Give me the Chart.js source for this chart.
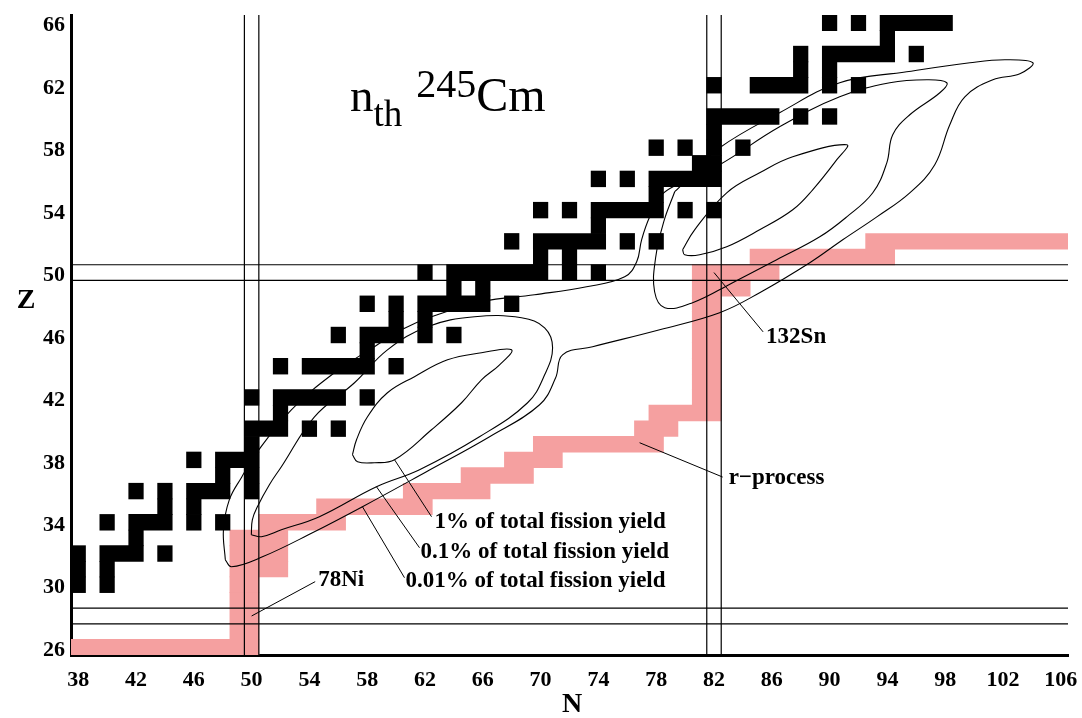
<!DOCTYPE html>
<html lang="en">
<head>
    <meta charset="UTF-8">
    <title>n_th 245Cm fission yield on the chart of nuclides</title>
    <style>
        html, body { margin: 0; padding: 0; background: #fff; overflow: hidden; }
        canvas { display: block; }
    </style>
    <script src="https://cdn.jsdelivr.net/npm/chart.js"></script>
</head>
<body>
    <canvas id="chart" width="1082" height="718"></canvas>

    <script>
        // Axis ticks
        const nTicks = [38, 42, 46, 50, 54, 58, 62, 66, 70, 74, 78, 82, 86, 90, 94, 98, 102, 106];
        const zTicks = [26, 30, 34, 38, 42, 46, 50, 54, 58, 62, 66];

        // Stable (and long-lived) nuclei: one list of neutron numbers per Z
        const stableZ = [30, 31, 32, 33, 34, 35, 36, 37, 38, 39, 40, 41, 42, 44, 45, 46, 47, 48, 49, 50,
                         51, 52, 53, 54, 55, 56, 57, 58, 59, 60, 62, 63, 64, 65, 66];
        const stableN = [
            [38, 40], [38, 40], [38, 40, 41, 42, 44], [42], [40, 42, 43, 44, 46, 48], [44, 46],
            [42, 44, 46, 47, 48, 50], [48, 50], [46, 48, 49, 50], [50], [50, 51, 52, 54, 56], [52],
            [50, 52, 53, 54, 55, 56, 58], [52, 54, 55, 56, 57, 58, 60], [58], [56, 58, 59, 60, 62, 64],
            [60, 62], [58, 60, 62, 63, 64, 65, 66, 68], [64, 66], [62, 64, 65, 66, 67, 68, 69, 70, 72, 74],
            [70, 72], [68, 70, 71, 72, 73, 74, 76, 78], [74], [70, 72, 74, 75, 76, 77, 78, 80, 82], [78],
            [74, 76, 78, 79, 80, 81, 82], [81, 82], [78, 80, 82, 84], [82], [82, 83, 84, 85, 86, 88, 90],
            [82, 85, 86, 87, 88, 90, 92], [88, 90], [88, 90, 91, 92, 93, 94, 96], [94], [90, 92, 94, 95, 96, 97, 98]
        ];

        // r-process path: first and last N for each Z
        const rZ    = [26, 27, 28, 29, 30, 31, 32, 33, 34, 35, 36, 37, 38, 39, 40, 41, 42, 43, 44, 45, 46, 47, 48, 49, 50, 51, 52];
        const rNmin = [38, 49, 49, 49, 49, 49, 49, 49, 51, 55, 61, 65, 68, 70, 77, 78, 81, 81, 81, 81, 81, 81, 81, 81, 81, 85, 93];
        const rNmax = [50, 50, 50, 50, 50, 52, 52, 52, 56, 62, 66, 69, 71, 78, 79, 82, 82, 82, 82, 82, 82, 82, 82, 84, 86, 94, 106];

        // Magic numbers (drawn as a pair of lines around the cell row/column)
        const magicN = [50, 82];
        const magicZ = [28, 50];

        // Fission yield contours (N, Z)
        const light1N = [56.98, 57.26, 58.02, 59.40, 61.27, 63.56, 65.91, 67.99, 67.16, 65.91, 64.53, 62.45, 59.89, 58.50, 57.33, 56.98];
        const light1Z = [38.33, 39.29, 40.76, 42.30, 43.33, 44.41, 44.86, 45.05, 44.09, 43.13, 41.66, 39.93, 38.01, 37.82, 37.88, 38.33];

        const heavy1N = [79.83, 80.66, 82.88, 85.16, 87.45, 91.19, 90.50, 88.83, 87.45, 85.16, 82.88, 81.01, 79.97, 79.83];
        const heavy1Z = [51.46, 52.74, 55.11, 56.39, 57.42, 58.19, 57.23, 55.30, 54.02, 52.74, 51.65, 51.14, 51.14, 51.46];

        const light01N = [49.98, 50.05, 50.40, 51.23, 52.06, 54.35, 57.12, 59.40, 62.17, 65.43, 68.68, 70.28, 70.83, 70.28, 69.10, 65.77, 61.62, 58.64, 54.69, 52.06, 50.68, 49.98];
        const light01Z = [33.20, 34.16, 35.00, 36.41, 37.56, 40.76, 42.94, 45.05, 46.53, 47.17, 47.10, 46.46, 45.18, 43.45, 41.66, 39.48, 37.37, 36.28, 34.36, 33.52, 33.08, 33.20];

        const heavy01N = [79.28, 80.46, 82.39, 86.54, 90.70, 94.17, 96.73, 98.11, 97.63, 95.55, 94.37, 93.96, 92.99, 91.19, 89.32, 86.34, 83.29, 80.52, 78.59, 77.89, 77.96, 78.52, 79.28];
        const heavy01Z = [55.18, 56.14, 56.91, 59.34, 61.26, 62.16, 62.35, 62.16, 61.52, 60.11, 58.83, 57.03, 55.11, 53.57, 52.29, 50.82, 49.35, 48.07, 47.75, 48.77, 50.95, 53.25, 55.18];

        const all001N = [48.18, 48.05, 48.46, 49.29, 50.40, 52.75, 55.73, 58.50, 60.37, 62.45, 65.91, 69.58, 73.18, 75.82, 76.65, 76.99, 77.55, 78.38, 79.97,
                         82.39, 86.54, 90.70, 95.34, 99.71, 102.13, 104.07, 103.17, 101.30, 99.36, 98.32, 97.28, 95.55, 93.27, 90.91, 88.63, 85.16, 82.39,
                         78.24, 73.60, 71.52, 71.04, 69.93, 66.47, 62.10, 57.67, 54.21, 50.75, 48.60, 48.18];
        const all001Z = [31.60, 33.52, 35.45, 36.86, 38.52, 41.21, 43.58, 45.25, 46.34, 47.17, 48.13, 48.58, 49.09, 49.73, 50.69, 52.10, 53.57, 54.98, 55.95,
                         58.00, 60.24, 62.16, 62.86, 63.44, 63.63, 63.44, 62.74, 62.35, 61.26, 59.47, 56.91, 55.11, 53.57, 52.10, 50.63, 48.71, 47.43,
                         46.34, 45.25, 44.73, 43.26, 41.53, 39.48, 37.24, 35.00, 33.33, 31.79, 31.15, 31.60];

        const serif = '"Liberation Serif", "Times New Roman", serif';

        // consecutive N values -> [first, last]
        function runs(list) {
            const out = [];
            list.forEach(n => {
                const last = out[out.length - 1];
                if (last && n === last[1] + 1) last[1] = n;
                else out.push([n, n]);
            });
            return out;
        }

        const stableCells = [];
        stableZ.forEach((z, i) => {
            runs(stableN[i]).forEach(r => stableCells.push({ y: z, x: [r[0] - 0.5, r[1] + 0.5] }));
        });
        const rCells = rZ.map((z, i) => ({ y: z, x: [rNmin[i] - 0.5, rNmax[i] + 0.5] }));

        const curve = (ns, zs) => ns.map((n, i) => ({ x: n, y: zs[i] }));

        const contour = data => ({
            type: 'scatter', showLine: true, data: data,
            borderColor: '#000', borderWidth: 1.1, pointRadius: 0,
            tension: 0.4, fill: false, order: 0
        });

        const line = data => ({
            type: 'scatter', showLine: true, data: data,
            borderColor: '#000', borderWidth: 1.2, pointRadius: 0, order: 1
        });

        const magicLines = [];
        magicN.forEach(n => [n - 0.5, n + 0.5].forEach(v =>
            magicLines.push(line([{ x: v, y: 25.5 }, { x: v, y: 66.5 }]))));
        magicZ.forEach(z => [z - 0.5, z + 0.5].forEach(v =>
            magicLines.push(line([{ x: 37.5, y: v }, { x: 106.5, y: v }]))));

        const cellBars = (data, color, order) => ({
            type: 'bar', indexAxis: 'y', data: data,
            backgroundColor: color, borderWidth: 0,
            grouped: false, barPercentage: 1, categoryPercentage: 1,
            inflateAmount: 0.4, order: order
        });

        // Pointer lines and their labels
        const notes = [
            { text: '1% of total fission yield',    from: [59.89, 38.01], to: [62.45, 34.36], dx: 3, dy: 5 },
            { text: '0.1% of total fission yield',  from: [58.64, 36.28], to: [61.62, 32.37], dx: 1, dy: 4 },
            { text: '0.01% of total fission yield', from: [57.67, 35.00], to: [60.58, 30.45], dx: 1, dy: 3 },
            { text: '78Ni',      from: [50, 28],       to: [54.4, 30.2],  dx: 3, dy: -2 },
            { text: '132Sn',     from: [82, 50],       to: [85.4, 46.2],  dx: 3, dy: 5 },
            { text: 'r\u2212process', from: [76.85, 39.1], to: [82.6, 36.9], dx: 6, dy: 1 }
        ];

        const annotations = {
            id: 'annotations',
            afterDatasetsDraw(chart) {
                const { ctx, scales: { x, y } } = chart;
                const px = n => x.getPixelForValue(n);
                const py = z => y.getPixelForValue(z);
                ctx.save();
                ctx.strokeStyle = '#000';
                ctx.fillStyle = '#000';
                ctx.lineWidth = 1;
                ctx.textBaseline = 'middle';
                ctx.textAlign = 'left';
                ctx.font = 'bold 23px ' + serif;
                notes.forEach(p => {
                    ctx.beginPath();
                    ctx.moveTo(px(p.from[0]), py(p.from[1]));
                    ctx.lineTo(px(p.to[0]), py(p.to[1]));
                    ctx.stroke();
                    ctx.fillText(p.text, px(p.to[0]) + p.dx, py(p.to[1]) + p.dy);
                });

                // axis titles
                ctx.textAlign = 'center';
                ctx.font = 'bold 28px ' + serif;
                ctx.fillText('Z', 26, 301);
                ctx.fillText('N', 572, 705);

                // title: n_th 245Cm
                ctx.textAlign = 'left';
                ctx.textBaseline = 'alphabetic';
                let tx = 350;
                ctx.font = '47px ' + serif;
                ctx.fillText('n', tx, 111);
                tx += ctx.measureText('n').width;
                ctx.font = '37px ' + serif;
                ctx.fillText('th', tx, 126);
                tx += ctx.measureText('th').width + 14;
                ctx.font = '40px ' + serif;
                ctx.fillText('245', tx, 97);
                tx += ctx.measureText('245').width;
                ctx.font = '48px ' + serif;
                ctx.fillText('Cm', tx, 111);
                ctx.restore();
            }
        };

        const tickFont = { family: serif, weight: 'bold', size: 22 };
        const noOverhang = s => { s.paddingLeft = 0; s.paddingRight = 0; s.paddingTop = 0; s.paddingBottom = 0; };

        new Chart(document.getElementById('chart'), {
            type: 'scatter',
            data: {
                datasets: [
                    contour(curve(light1N, light1Z)),
                    contour(curve(heavy1N, heavy1Z)),
                    contour(curve(light01N, light01Z)),
                    contour(curve(heavy01N, heavy01Z)),
                    contour(curve(all001N, all001Z)),
                    ...magicLines,
                    cellBars(stableCells, '#000', 2),
                    cellBars(rCells, '#f5a0a0', 3)
                ]
            },
            options: {
                responsive: false,
                devicePixelRatio: 1,
                animation: false,
                layout: { padding: { top: 15, right: 14, left: 0, bottom: 0 } },
                plugins: { legend: { display: false }, tooltip: { enabled: false } },
                scales: {
                    x: {
                        type: 'linear', min: 37.5, max: 106.5, offset: false,
                        grid: { display: false, drawTicks: false },
                        border: { display: true, color: '#000', width: 3 },
                        ticks: { color: '#000', font: tickFont, padding: 12, maxRotation: 0, autoSkip: false, callback: v => String(v) },
                        afterBuildTicks: s => { s.ticks = nTicks.map(v => ({ value: v })); },
                        afterFit: s => { s.height = 63; noOverhang(s); }
                    },
                    y: {
                        type: 'linear', min: 25.5, max: 66.5, offset: false,
                        grid: { display: false, drawTicks: false },
                        border: { display: true, color: '#000', width: 3 },
                        ticks: { color: '#000', font: tickFont, padding: 6, labelOffset: 3, autoSkip: false, callback: v => String(v) },
                        afterBuildTicks: s => { s.ticks = zTicks.map(v => ({ value: v })); },
                        afterFit: s => { s.width = 71; noOverhang(s); }
                    }
                }
            },
            plugins: [annotations]
        });
    </script>
</body>
</html>
